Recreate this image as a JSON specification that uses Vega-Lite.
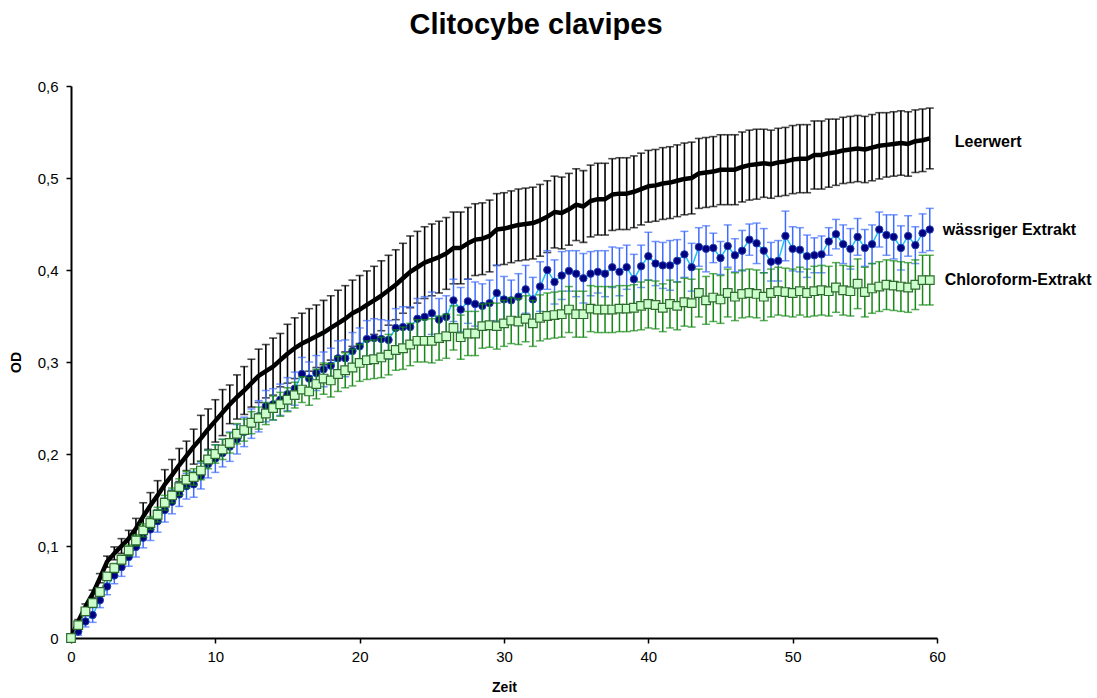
{
"$schema": "https://vega.github.io/schema/vega-lite/v6.json",
"width": 866, "height": 552,
"autosize": {"type": "none"},
"padding": {"left": 71, "top": 86, "right": 160, "bottom": 60},
"background": "white",
"title": {"text": "Clitocybe clavipes", "font": "Liberation Sans", "fontSize": 29, "fontWeight": "bold", "color": "black", "anchor": "middle", "dx": 32, "offset": 39},
"config": {"view": {"stroke": null}, "font": "Liberation Sans"},
"datasets": {
"L": [{"t":0,"v":0,"e":0},{"t":0.5,"v":0.018,"e":0.002},{"t":1,"v":0.034,"e":0.003},{"t":1.5,"v":0.048,"e":0.004},{"t":2,"v":0.065,"e":0.005},{"t":2.5,"v":0.083,"e":0.006},{"t":3,"v":0.092,"e":0.007},{"t":3.5,"v":0.1,"e":0.008},{"t":4,"v":0.108,"e":0.009},{"t":4.5,"v":0.119,"e":0.011},{"t":5,"v":0.132,"e":0.015},{"t":5.5,"v":0.144,"e":0.014},{"t":6,"v":0.155,"e":0.016},{"t":6.5,"v":0.167,"e":0.016},{"t":7,"v":0.177,"e":0.017},{"t":7.5,"v":0.188,"e":0.018},{"t":8,"v":0.198,"e":0.016},{"t":8.5,"v":0.208,"e":0.019},{"t":9,"v":0.217,"e":0.025},{"t":9.5,"v":0.227,"e":0.022},{"t":10,"v":0.236,"e":0.023},{"t":10.5,"v":0.245,"e":0.025},{"t":11,"v":0.254,"e":0.021},{"t":11.5,"v":0.262,"e":0.024},{"t":12,"v":0.269,"e":0.026},{"t":12.5,"v":0.277,"e":0.026},{"t":13,"v":0.285,"e":0.029},{"t":13.5,"v":0.29,"e":0.029},{"t":14,"v":0.295,"e":0.031},{"t":14.5,"v":0.302,"e":0.029},{"t":15,"v":0.309,"e":0.032},{"t":15.5,"v":0.315,"e":0.033},{"t":16,"v":0.32,"e":0.033},{"t":16.5,"v":0.324,"e":0.034},{"t":17,"v":0.328,"e":0.034},{"t":17.5,"v":0.332,"e":0.035},{"t":18,"v":0.337,"e":0.035},{"t":18.5,"v":0.342,"e":0.036},{"t":19,"v":0.347,"e":0.036},{"t":19.5,"v":0.353,"e":0.036},{"t":20,"v":0.357,"e":0.037},{"t":20.5,"v":0.362,"e":0.037},{"t":21,"v":0.367,"e":0.037},{"t":21.5,"v":0.372,"e":0.038},{"t":22,"v":0.378,"e":0.038},{"t":22.5,"v":0.384,"e":0.038},{"t":23,"v":0.391,"e":0.038},{"t":23.5,"v":0.398,"e":0.039},{"t":24,"v":0.403,"e":0.039},{"t":24.5,"v":0.408,"e":0.039},{"t":25,"v":0.411,"e":0.039},{"t":25.5,"v":0.414,"e":0.039},{"t":26,"v":0.418,"e":0.039},{"t":26.5,"v":0.424,"e":0.039},{"t":27,"v":0.424,"e":0.039},{"t":27.5,"v":0.429,"e":0.039},{"t":28,"v":0.433,"e":0.039},{"t":28.5,"v":0.434,"e":0.039},{"t":29,"v":0.437,"e":0.039},{"t":29.5,"v":0.444,"e":0.039},{"t":30,"v":0.445,"e":0.039},{"t":30.5,"v":0.447,"e":0.039},{"t":31,"v":0.449,"e":0.039},{"t":31.5,"v":0.45,"e":0.039},{"t":32,"v":0.451,"e":0.039},{"t":32.5,"v":0.454,"e":0.039},{"t":33,"v":0.458,"e":0.039},{"t":33.5,"v":0.463,"e":0.039},{"t":34,"v":0.462,"e":0.039},{"t":34.5,"v":0.466,"e":0.039},{"t":35,"v":0.471,"e":0.039},{"t":35.5,"v":0.469,"e":0.039},{"t":36,"v":0.475,"e":0.039},{"t":36.5,"v":0.477,"e":0.039},{"t":37,"v":0.477,"e":0.039},{"t":37.5,"v":0.482,"e":0.039},{"t":38,"v":0.483,"e":0.039},{"t":38.5,"v":0.483,"e":0.039},{"t":39,"v":0.485,"e":0.039},{"t":39.5,"v":0.488,"e":0.039},{"t":40,"v":0.491,"e":0.039},{"t":40.5,"v":0.492,"e":0.039},{"t":41,"v":0.494,"e":0.039},{"t":41.5,"v":0.495,"e":0.039},{"t":42,"v":0.497,"e":0.039},{"t":42.5,"v":0.499,"e":0.039},{"t":43,"v":0.5,"e":0.039},{"t":43.5,"v":0.505,"e":0.038},{"t":44,"v":0.506,"e":0.038},{"t":44.5,"v":0.507,"e":0.038},{"t":45,"v":0.509,"e":0.038},{"t":45.5,"v":0.509,"e":0.038},{"t":46,"v":0.509,"e":0.038},{"t":46.5,"v":0.512,"e":0.038},{"t":47,"v":0.514,"e":0.038},{"t":47.5,"v":0.515,"e":0.038},{"t":48,"v":0.516,"e":0.037},{"t":48.5,"v":0.515,"e":0.037},{"t":49,"v":0.517,"e":0.037},{"t":49.5,"v":0.518,"e":0.037},{"t":50,"v":0.52,"e":0.037},{"t":50.5,"v":0.521,"e":0.037},{"t":51,"v":0.521,"e":0.037},{"t":51.5,"v":0.525,"e":0.037},{"t":52,"v":0.525,"e":0.037},{"t":52.5,"v":0.527,"e":0.037},{"t":53,"v":0.528,"e":0.036},{"t":53.5,"v":0.53,"e":0.036},{"t":54,"v":0.531,"e":0.036},{"t":54.5,"v":0.532,"e":0.036},{"t":55,"v":0.531,"e":0.036},{"t":55.5,"v":0.533,"e":0.036},{"t":56,"v":0.535,"e":0.036},{"t":56.5,"v":0.536,"e":0.035},{"t":57,"v":0.537,"e":0.035},{"t":57.5,"v":0.538,"e":0.035},{"t":58,"v":0.537,"e":0.035},{"t":58.5,"v":0.54,"e":0.034},{"t":59,"v":0.541,"e":0.034},{"t":59.5,"v":0.543,"e":0.033}],
"W": [{"t":0,"v":0,"e":0},{"t":0.5,"v":0.007,"e":0.004},{"t":1,"v":0.018,"e":0.006},{"t":1.5,"v":0.025,"e":0.008},{"t":2,"v":0.041,"e":0.008},{"t":2.5,"v":0.056,"e":0.009},{"t":3,"v":0.068,"e":0.009},{"t":3.5,"v":0.077,"e":0.01},{"t":4,"v":0.088,"e":0.01},{"t":4.5,"v":0.099,"e":0.011},{"t":5,"v":0.109,"e":0.011},{"t":5.5,"v":0.118,"e":0.012},{"t":6,"v":0.127,"e":0.012},{"t":6.5,"v":0.139,"e":0.013},{"t":7,"v":0.148,"e":0.013},{"t":7.5,"v":0.156,"e":0.013},{"t":8,"v":0.165,"e":0.014},{"t":8.5,"v":0.167,"e":0.014},{"t":9,"v":0.176,"e":0.014},{"t":9.5,"v":0.189,"e":0.015},{"t":10,"v":0.195,"e":0.015},{"t":10.5,"v":0.201,"e":0.015},{"t":11,"v":0.208,"e":0.016},{"t":11.5,"v":0.216,"e":0.016},{"t":12,"v":0.224,"e":0.016},{"t":12.5,"v":0.233,"e":0.016},{"t":13,"v":0.241,"e":0.017},{"t":13.5,"v":0.252,"e":0.017},{"t":14,"v":0.254,"e":0.017},{"t":14.5,"v":0.259,"e":0.017},{"t":15,"v":0.265,"e":0.018},{"t":15.5,"v":0.271,"e":0.018},{"t":16,"v":0.287,"e":0.018},{"t":16.5,"v":0.282,"e":0.018},{"t":17,"v":0.288,"e":0.019},{"t":17.5,"v":0.292,"e":0.019},{"t":18,"v":0.296,"e":0.019},{"t":18.5,"v":0.304,"e":0.019},{"t":19,"v":0.304,"e":0.02},{"t":19.5,"v":0.312,"e":0.02},{"t":20,"v":0.317,"e":0.02},{"t":20.5,"v":0.325,"e":0.02},{"t":21,"v":0.326,"e":0.021},{"t":21.5,"v":0.325,"e":0.021},{"t":22,"v":0.324,"e":0.021},{"t":22.5,"v":0.337,"e":0.021},{"t":23,"v":0.338,"e":0.022},{"t":23.5,"v":0.338,"e":0.022},{"t":24,"v":0.347,"e":0.022},{"t":24.5,"v":0.349,"e":0.022},{"t":25,"v":0.353,"e":0.023},{"t":25.5,"v":0.346,"e":0.023},{"t":26,"v":0.349,"e":0.023},{"t":26.5,"v":0.367,"e":0.023},{"t":27,"v":0.357,"e":0.024},{"t":27.5,"v":0.366,"e":0.024},{"t":28,"v":0.363,"e":0.024},{"t":28.5,"v":0.361,"e":0.024},{"t":29,"v":0.364,"e":0.025},{"t":29.5,"v":0.375,"e":0.03},{"t":30,"v":0.368,"e":0.025},{"t":30.5,"v":0.367,"e":0.022},{"t":31,"v":0.371,"e":0.025},{"t":31.5,"v":0.379,"e":0.026},{"t":32,"v":0.368,"e":0.024},{"t":32.5,"v":0.382,"e":0.027},{"t":33,"v":0.4,"e":0.021},{"t":33.5,"v":0.387,"e":0.024},{"t":34,"v":0.394,"e":0.026},{"t":34.5,"v":0.399,"e":0.022},{"t":35,"v":0.396,"e":0.025},{"t":35.5,"v":0.391,"e":0.027},{"t":36,"v":0.396,"e":0.024},{"t":36.5,"v":0.398,"e":0.023},{"t":37,"v":0.396,"e":0.025},{"t":37.5,"v":0.403,"e":0.022},{"t":38,"v":0.398,"e":0.026},{"t":38.5,"v":0.403,"e":0.024},{"t":39,"v":0.39,"e":0.027},{"t":39.5,"v":0.404,"e":0.023},{"t":40,"v":0.415,"e":0.026},{"t":40.5,"v":0.407,"e":0.024},{"t":41,"v":0.405,"e":0.025},{"t":41.5,"v":0.405,"e":0.027},{"t":42,"v":0.41,"e":0.023},{"t":42.5,"v":0.417,"e":0.025},{"t":43,"v":0.403,"e":0.026},{"t":43.5,"v":0.425,"e":0.021},{"t":44,"v":0.423,"e":0.025},{"t":44.5,"v":0.424,"e":0.016},{"t":45,"v":0.413,"e":0.018},{"t":45.5,"v":0.426,"e":0.023},{"t":46,"v":0.416,"e":0.018},{"t":46.5,"v":0.421,"e":0.022},{"t":47,"v":0.433,"e":0.017},{"t":47.5,"v":0.429,"e":0.022},{"t":48,"v":0.421,"e":0.024},{"t":48.5,"v":0.409,"e":0.021},{"t":49,"v":0.41,"e":0.022},{"t":49.5,"v":0.437,"e":0.027},{"t":50,"v":0.423,"e":0.024},{"t":50.5,"v":0.422,"e":0.024},{"t":51,"v":0.415,"e":0.023},{"t":51.5,"v":0.416,"e":0.019},{"t":52,"v":0.417,"e":0.02},{"t":52.5,"v":0.431,"e":0.015},{"t":53,"v":0.439,"e":0.016},{"t":53.5,"v":0.428,"e":0.021},{"t":54,"v":0.423,"e":0.022},{"t":54.5,"v":0.436,"e":0.02},{"t":55,"v":0.424,"e":0.02},{"t":55.5,"v":0.428,"e":0.021},{"t":56,"v":0.444,"e":0.019},{"t":56.5,"v":0.438,"e":0.022},{"t":57,"v":0.436,"e":0.024},{"t":57.5,"v":0.424,"e":0.024},{"t":58,"v":0.437,"e":0.022},{"t":58.5,"v":0.427,"e":0.02},{"t":59,"v":0.44,"e":0.021},{"t":59.5,"v":0.444,"e":0.023}],
"C": [{"t":0,"v":0,"e":0},{"t":0.5,"v":0.014,"e":0.002},{"t":1,"v":0.029,"e":0.003},{"t":1.5,"v":0.038,"e":0.003},{"t":2,"v":0.05,"e":0.004},{"t":2.5,"v":0.067,"e":0.004},{"t":3,"v":0.076,"e":0.005},{"t":3.5,"v":0.085,"e":0.005},{"t":4,"v":0.095,"e":0.006},{"t":4.5,"v":0.106,"e":0.006},{"t":5,"v":0.117,"e":0.007},{"t":5.5,"v":0.125,"e":0.007},{"t":6,"v":0.134,"e":0.008},{"t":6.5,"v":0.147,"e":0.008},{"t":7,"v":0.155,"e":0.008},{"t":7.5,"v":0.164,"e":0.009},{"t":8,"v":0.172,"e":0.009},{"t":8.5,"v":0.175,"e":0.009},{"t":9,"v":0.182,"e":0.01},{"t":9.5,"v":0.194,"e":0.01},{"t":10,"v":0.2,"e":0.01},{"t":10.5,"v":0.205,"e":0.011},{"t":11,"v":0.212,"e":0.011},{"t":11.5,"v":0.222,"e":0.011},{"t":12,"v":0.226,"e":0.012},{"t":12.5,"v":0.234,"e":0.012},{"t":13,"v":0.239,"e":0.012},{"t":13.5,"v":0.244,"e":0.012},{"t":14,"v":0.25,"e":0.013},{"t":14.5,"v":0.254,"e":0.013},{"t":15,"v":0.259,"e":0.013},{"t":15.5,"v":0.264,"e":0.014},{"t":16,"v":0.27,"e":0.014},{"t":16.5,"v":0.268,"e":0.015},{"t":17,"v":0.276,"e":0.016},{"t":17.5,"v":0.282,"e":0.017},{"t":18,"v":0.28,"e":0.018},{"t":18.5,"v":0.287,"e":0.019},{"t":19,"v":0.291,"e":0.019},{"t":19.5,"v":0.294,"e":0.02},{"t":20,"v":0.299,"e":0.02},{"t":20.5,"v":0.302,"e":0.021},{"t":21,"v":0.303,"e":0.021},{"t":21.5,"v":0.305,"e":0.022},{"t":22,"v":0.308,"e":0.022},{"t":22.5,"v":0.313,"e":0.022},{"t":23,"v":0.315,"e":0.023},{"t":23.5,"v":0.319,"e":0.023},{"t":24,"v":0.323,"e":0.023},{"t":24.5,"v":0.323,"e":0.023},{"t":25,"v":0.323,"e":0.024},{"t":25.5,"v":0.326,"e":0.024},{"t":26,"v":0.328,"e":0.024},{"t":26.5,"v":0.337,"e":0.024},{"t":27,"v":0.327,"e":0.024},{"t":27.5,"v":0.331,"e":0.024},{"t":28,"v":0.331,"e":0.024},{"t":28.5,"v":0.339,"e":0.024},{"t":29,"v":0.34,"e":0.024},{"t":29.5,"v":0.339,"e":0.025},{"t":30,"v":0.342,"e":0.025},{"t":30.5,"v":0.345,"e":0.025},{"t":31,"v":0.344,"e":0.025},{"t":31.5,"v":0.347,"e":0.025},{"t":32,"v":0.342,"e":0.025},{"t":32.5,"v":0.348,"e":0.025},{"t":33,"v":0.35,"e":0.025},{"t":33.5,"v":0.351,"e":0.025},{"t":34,"v":0.352,"e":0.025},{"t":34.5,"v":0.357,"e":0.025},{"t":35,"v":0.352,"e":0.025},{"t":35.5,"v":0.352,"e":0.025},{"t":36,"v":0.358,"e":0.025},{"t":36.5,"v":0.357,"e":0.025},{"t":37,"v":0.357,"e":0.025},{"t":37.5,"v":0.357,"e":0.025},{"t":38,"v":0.358,"e":0.025},{"t":38.5,"v":0.358,"e":0.025},{"t":39,"v":0.359,"e":0.025},{"t":39.5,"v":0.361,"e":0.026},{"t":40,"v":0.363,"e":0.026},{"t":40.5,"v":0.362,"e":0.026},{"t":41,"v":0.359,"e":0.026},{"t":41.5,"v":0.363,"e":0.026},{"t":42,"v":0.361,"e":0.026},{"t":42.5,"v":0.365,"e":0.026},{"t":43,"v":0.364,"e":0.026},{"t":43.5,"v":0.375,"e":0.026},{"t":44,"v":0.367,"e":0.026},{"t":44.5,"v":0.37,"e":0.026},{"t":45,"v":0.368,"e":0.026},{"t":45.5,"v":0.375,"e":0.026},{"t":46,"v":0.371,"e":0.026},{"t":46.5,"v":0.374,"e":0.026},{"t":47,"v":0.375,"e":0.026},{"t":47.5,"v":0.374,"e":0.026},{"t":48,"v":0.371,"e":0.026},{"t":48.5,"v":0.375,"e":0.026},{"t":49,"v":0.377,"e":0.026},{"t":49.5,"v":0.376,"e":0.026},{"t":50,"v":0.375,"e":0.026},{"t":50.5,"v":0.377,"e":0.026},{"t":51,"v":0.375,"e":0.026},{"t":51.5,"v":0.377,"e":0.027},{"t":52,"v":0.378,"e":0.027},{"t":52.5,"v":0.377,"e":0.027},{"t":53,"v":0.381,"e":0.027},{"t":53.5,"v":0.378,"e":0.027},{"t":54,"v":0.377,"e":0.027},{"t":54.5,"v":0.385,"e":0.027},{"t":55,"v":0.376,"e":0.027},{"t":55.5,"v":0.38,"e":0.027},{"t":56,"v":0.382,"e":0.027},{"t":56.5,"v":0.384,"e":0.027},{"t":57,"v":0.383,"e":0.027},{"t":57.5,"v":0.382,"e":0.027},{"t":58,"v":0.381,"e":0.027},{"t":58.5,"v":0.384,"e":0.027},{"t":59,"v":0.389,"e":0.027},{"t":59.5,"v":0.389,"e":0.027}]
},
"encoding": {
  "x": {"field": "t", "type": "quantitative", "scale": {"domain": [0, 60], "nice": false, "zero": true, "padding": 0},
        "axis": {"title": "Zeit", "values": [0, 10, 20, 30, 40, 50, 60], "labelFlush": false, "grid": false, "tickSize": 5, "tickColor": "black", "tickWidth": 1.5, "domainColor": "black", "domainWidth": 2, "labelColor": "black", "labelFontSize": 15, "labelFont": "Liberation Sans", "labelPadding": 6, "titleFont": "Liberation Sans", "titleFontSize": 14, "titleFontWeight": "bold", "titleColor": "black", "titlePadding": 16}},
  "y": {"field": "v", "type": "quantitative", "scale": {"domain": [0, 0.6], "nice": false, "padding": 0},
        "axis": {"title": "OD", "values": [0, 0.1, 0.2, 0.3, 0.4, 0.5, 0.6], "labelFlush": false, "labelExpr": "replace(format(datum.value, '.1~f'), '.', ',')", "grid": false, "tickSize": 5, "tickColor": "black", "tickWidth": 1.5, "domainColor": "black", "domainWidth": 2, "labelColor": "black", "labelFontSize": 15, "labelFont": "Liberation Sans", "labelPadding": 8, "titleFont": "Liberation Sans", "titleFontSize": 14, "titleFontWeight": "bold", "titleColor": "black", "titlePadding": 14}}
},
"layer": [
  {"data": {"name": "L"}, "mark": {"type": "errorbar", "color": "black", "rule": {"strokeWidth": 1.6}, "ticks": {"size": 8, "thickness": 1.6, "color": "black"}}, "encoding": {"yError": {"field": "e"}}},
  {"data": {"name": "L"}, "mark": {"type": "line", "color": "black", "strokeWidth": 4.5, "strokeJoin": "round"}},
  {"data": {"name": "W"}, "mark": {"type": "errorbar", "color": "#3D6BFF", "rule": {"strokeWidth": 1.5}, "ticks": {"size": 8, "thickness": 1.5, "color": "#3D6BFF"}}, "encoding": {"yError": {"field": "e"}}},
  {"data": {"name": "W"}, "mark": {"type": "line", "color": "#19C4F5", "strokeWidth": 1.5}},
  {"data": {"name": "W"}, "mark": {"type": "point", "shape": "circle", "filled": true, "fill": "#000080", "stroke": "#2040B0", "strokeWidth": 1, "size": 55, "opacity": 1}},
  {"data": {"name": "C"}, "mark": {"type": "errorbar", "color": "#148A14", "rule": {"strokeWidth": 1.5}, "ticks": {"size": 8, "thickness": 1.5, "color": "#148A14"}}, "encoding": {"yError": {"field": "e"}}},
  {"data": {"name": "C"}, "mark": {"type": "line", "color": "#33A033", "strokeWidth": 1}},
  {"data": {"name": "C"}, "mark": {"type": "point", "shape": "square", "filled": true, "fill": "#CCFFCC", "stroke": "#2F6B2F", "strokeWidth": 1.2, "size": 75, "opacity": 1}},
  {"data": {"values": [{"t": 59.5, "v": 0.543, "label": "Leerwert"}]}, "mark": {"type": "text", "align": "left", "baseline": "middle", "dx": 25, "dy": 4, "font": "Liberation Sans", "fontSize": 16, "fontWeight": "bold", "color": "black"}, "encoding": {"text": {"field": "label"}}},
  {"data": {"values": [{"t": 59.5, "v": 0.444, "label": "wässriger Extrakt"}]}, "mark": {"type": "text", "align": "left", "baseline": "middle", "dx": 13, "font": "Liberation Sans", "fontSize": 16, "fontWeight": "bold", "color": "black"}, "encoding": {"text": {"field": "label"}}},
  {"data": {"values": [{"t": 59.5, "v": 0.389, "label": "Chloroform-Extrakt"}]}, "mark": {"type": "text", "align": "left", "baseline": "middle", "dx": 15, "font": "Liberation Sans", "fontSize": 16, "fontWeight": "bold", "color": "black"}, "encoding": {"text": {"field": "label"}}}
]
}
